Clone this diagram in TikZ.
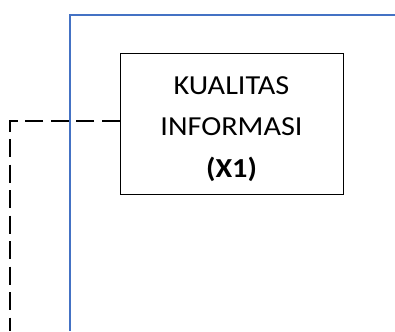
\documentclass[tikz,border=0pt]{standalone}
\usepackage{fontspec}
\setmainfont[FakeStretch=1.1]{Carlito}
\definecolor{frameblue}{HTML}{4472C4}

\begin{document}
\begin{tikzpicture}[x=1pt, y=-1pt,
    varbox/.style={draw, line width=1pt, minimum width=223pt, minimum height=140pt, inner sep=0pt},
    vartext/.style={align=center, font=\fontsize{27.5}{41.5}\selectfont, inner sep=0pt},
    link/.style={line width=1.5pt, dash pattern=on 18pt off 7.5pt}]
  % Canvas size
  \useasboundingbox (0,0) rectangle (395,331);

  % Blue frame (top and left edges)
  \coordinate (framebottom) at (70,331);
  \coordinate (framecorner) at (70,15);
  \coordinate (frameright) at (395,15);
  \draw[frameblue, line width=1.5pt] (framebottom) -- (framecorner) -- (frameright);

  % Variable box
  \node[varbox] (kualitas) at (231.5,124) {};
  \node[vartext, yshift=-5pt] (kualitaslabel) at (kualitas.center) {KUALITAS\\INFORMASI\\\textbf{(X1)}};

  % Dashed link leaving the box
  \coordinate (linkend) at (10,331);
  \draw[link] ([yshift=3pt]kualitas.west) -| (linkend);
\end{tikzpicture}
\end{document}
